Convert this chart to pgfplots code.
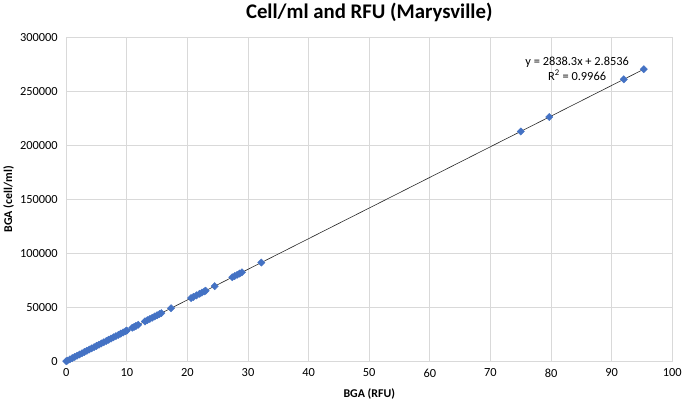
\documentclass[border=0pt]{standalone}
\usepackage{fontspec}
\setmainfont{Carlito}
\usepackage{pgfplots}
\pgfplotsset{compat=1.18}
\definecolor{excelblue}{HTML}{4472C4}
\definecolor{gridgray}{HTML}{D9D9D9}
\begin{document}
\begin{tikzpicture}
\begin{axis}[
    scale only axis,
    width=612pt, height=327pt,
    xmin=0, xmax=100, ymin=0, ymax=300000,
    xtick={0,10,...,100},
    ytick={0,50000,...,300000},
    scaled y ticks=false,
    yticklabel style={/pgf/number format/fixed, /pgf/number format/1000 sep={}, xshift=-5pt},
    xticklabel style={yshift=-4pt},
    /pgf/number format/assume math mode=true,
    ticklabel style={font=\fontsize{12.5}{14}\selectfont},
    grid=major,
    major grid style={gridgray, line width=0.9pt},
    axis line style={gridgray, line width=0.9pt},
    tick style={draw=none},
    xlabel={\textbf{BGA (RFU)}},
    ylabel={\textbf{BGA (cell/ml)}},
    label style={font=\fontsize{12}{14}\selectfont},
    xlabel style={at={(axis description cs:0.5,-0.101)}, anchor=center},
    ylabel style={at={(axis description cs:-0.095,0.5)}, anchor=center},
    title={\textbf{Cell/ml and RFU (Marysville)}},
    title style={font=\fontsize{21}{24}\selectfont, at={(axis description cs:0.5,1.058)}, anchor=center, yshift=0pt},
    clip=false,
]
\addplot[only marks, mark=square*, mark size=2.6pt,
    mark options={fill=excelblue, draw=excelblue, rotate=45}] coordinates {
(0.0,0) (0.2,568) (0.6,1703) (1.0,2838) (1.4,3974) (1.8,5109) (2.2,6244)
(2.6,7380) (3.0,8515) (3.4,9650) (3.8,10786) (4.2,11921) (4.6,13056)
(5.0,14192) (5.4,15327) (5.8,16462) (6.2,17597) (6.6,18733) (7.0,19868)
(7.4,21003) (7.8,22139) (8.2,23274) (8.6,24409) (9.0,25545) (9.4,26680)
(9.8,27815) (10.0,28383)
(10.9,30938) (11.2,31789) (11.5,32640) (11.9,33776)
(13.0,36898) (13.4,38033) (13.8,39169) (14.2,40304) (14.6,41440)
(15.0,42575) (15.4,43710) (15.7,44561)
(17.3,49103)
(20.6,58469) (21.0,59604) (21.5,61023) (22.0,62443) (22.4,63578)
(22.8,64713) (23.0,65281)
(24.5,69538)
(27.4,77769) (27.8,78905) (28.2,80040) (28.6,81175) (29.0,82311)
(32.2,91395)
(75.0,212873) (79.7,226213) (92.0,261124) (95.3,270494)
};
\addplot[black!85, line width=0.6pt] coordinates {(0,2.8536) (95.3,270502)};
\node[align=center, font=\fontsize{12.5}{15}\selectfont, inner sep=0pt]
    at (axis cs:84.3,271000) {y = 2838.3x + 2.8536\\R\textsuperscript{2} = 0.9966};
\end{axis}
\end{tikzpicture}
\end{document}
